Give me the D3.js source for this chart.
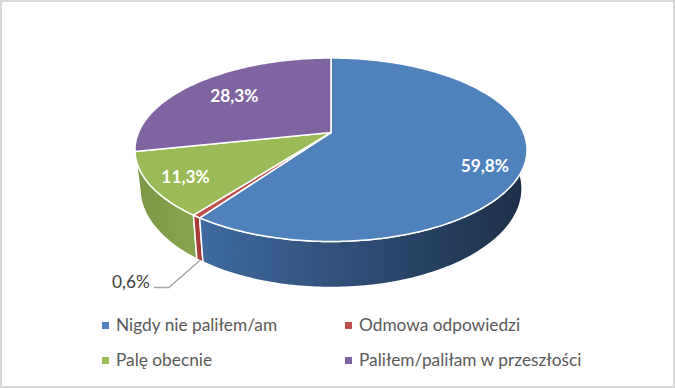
<!DOCTYPE html>
<html>
<head>
<meta charset="utf-8">
<script src="https://cdn.jsdelivr.net/npm/d3@7"></script>
<style>
html, body { margin: 0; padding: 0; background: #fff; }
text { font-family: Lato, "Open Sans", sans-serif; }
</style>
</head>
<body>
<div id="chart"></div>
<script>
const categories = ["Nigdy nie paliłem/am", "Odmowa odpowiedzi", "Palę obecnie", "Paliłem/paliłam w przeszłości"];
const values = [59.8, 0.6, 11.3, 28.3];
const labels = ["59,8%", "0,6%", "11,3%", "28,3%"];
const colors = ["#4f81bd", "#c0504d", "#9bbb59", "#8064a2"];
const sideDark = ["#1c2f49", "#9c3835", "#7c9746", "#5c4875"];
const sideLight = ["#3f6a9f", "#a83c39", "#89a54e", "#6d5590"];

const width = 675, height = 388;

const svg = d3.select("#chart").append("svg")
    .attr("width", width)
    .attr("height", height)
    .style("display", "block");

// frame round the chart
svg.append("rect")
    .attr("x", 1).attr("y", 1)
    .attr("width", width - 2).attr("height", height - 2)
    .attr("fill", "#fff")
    .attr("stroke", "#d9d9d9")
    .attr("stroke-width", 2);

// the pie is a tilted disc seen in perspective, so the centre sits above the middle of the ellipse
const cx = 331, apexY = 132.5;
const persp = -0.188, radX = 192.5, radY = 88.5;
const wallDepth = 37.4, wallShrink = 0.975;

function project(angle, f = 1) {
    const u = Math.sin(angle) * f, v = -Math.cos(angle) * f;
    const w = 1 + persp * v;
    return [cx + radX * u / w, apexY + radY * v / w];
}

// same rim point on the underside of the disc
function projectBottom(angle) {
    const p = project(angle);
    const w = 1 - persp * Math.cos(angle);
    return [cx + (p[0] - cx) * wallShrink, p[1] + wallDepth / w];
}

const pie = d3.pie().sort(null).value(d => d);
const arcs = pie(values);
const line = d3.line();

function rimAngles(a0, a1) {
    const n = Math.max(2, Math.ceil((a1 - a0) * 60));
    return d3.range(n + 1).map(i => a0 + (a1 - a0) * i / n);
}

const defs = svg.append("defs");
arcs.forEach((d, i) => {
    const g = defs.append("linearGradient")
        .attr("id", "side" + i)
        .attr("gradientUnits", "userSpaceOnUse")
        .attr("x1", i === 0 ? 200 : 135).attr("x2", i === 0 ? 527 : 200)
        .attr("y1", 0).attr("y2", 0);
    g.append("stop").attr("offset", 0).attr("stop-color", i === 0 ? sideLight[i] : sideDark[i]);
    g.append("stop").attr("offset", 1).attr("stop-color", i === 0 ? sideDark[i] : sideLight[i]);
});

// outer walls first, last slices at the back
const order = d3.range(arcs.length).reverse();
svg.append("g").selectAll("path")
    .data(order)
    .enter().append("path")
    .attr("d", i => {
        const angles = rimAngles(arcs[i].startAngle, arcs[i].endAngle);
        const top = angles.map(a => project(a));
        const bottom = angles.map(projectBottom).reverse();
        return line(top.concat(bottom)) + "Z";
    })
    .attr("fill", i => `url(#side${i})`)
    .attr("stroke", "#fff")
    .attr("stroke-width", 1.5)
    .attr("stroke-linejoin", "round");

// top faces
svg.append("g").selectAll("path")
    .data(arcs)
    .enter().append("path")
    .attr("d", d => line([[cx, apexY]].concat(rimAngles(d.startAngle, d.endAngle).map(a => project(a)))) + "Z")
    .attr("fill", (d, i) => colors[i])
    .attr("stroke", "#fff")
    .attr("stroke-width", 1.5)
    .attr("stroke-linejoin", "round");

// data labels, placed along each slice's middle angle
const labelPlace = [{f: 0.8, dy: 17.5}, null, {f: 0.82, dy: 8}, {f: 0.7, dy: 6}];
svg.append("g").selectAll("text")
    .data(arcs.filter((d, i) => labelPlace[i]))
    .enter().append("text")
    .attr("transform", d => {
        const place = labelPlace[d.index];
        const p = project((d.startAngle + d.endAngle) / 2, place.f);
        return `translate(${p[0]},${p[1] + place.dy})`;
    })
    .attr("text-anchor", "middle")
    .attr("font-size", 17.3)
    .attr("font-weight", 700)
    .attr("fill", "#fff")
    .text(d => labels[d.index]);

// leader line for the small slice
const small = arcs[1];
const foot = projectBottom((small.startAngle + small.endAngle) / 2);
svg.append("path")
    .attr("d", line([foot, [foot[0] - 31, foot[1] + 27], [foot[0] - 46, foot[1] + 27]]))
    .attr("fill", "none")
    .attr("stroke", "#a6a6a6")
    .attr("stroke-width", 1.5);
svg.append("text")
    .attr("x", foot[0] - 50)
    .attr("y", foot[1] + 27)
    .attr("text-anchor", "end")
    .attr("font-size", 17.3)
    .attr("fill", "#404040")
    .text(labels[1]);

// legend, two columns
const col = d3.scalePoint().domain([0, 1]).range([102, 345]);
const row = d3.scalePoint().domain([0, 1]).range([325, 360]);
const legend = svg.append("g").selectAll("g")
    .data(categories)
    .enter().append("g")
    .attr("transform", (d, i) => `translate(${col(i % 2)},${row(Math.floor(i / 2))})`);
legend.append("rect")
    .attr("y", -3)
    .attr("width", 7).attr("height", 7)
    .attr("fill", (d, i) => colors[i]);
legend.append("text")
    .attr("x", 14)
    .attr("y", 6)
    .attr("font-size", 17.3)
    .attr("fill", "#595959")
    .text(d => d);
</script>
</body>
</html>
